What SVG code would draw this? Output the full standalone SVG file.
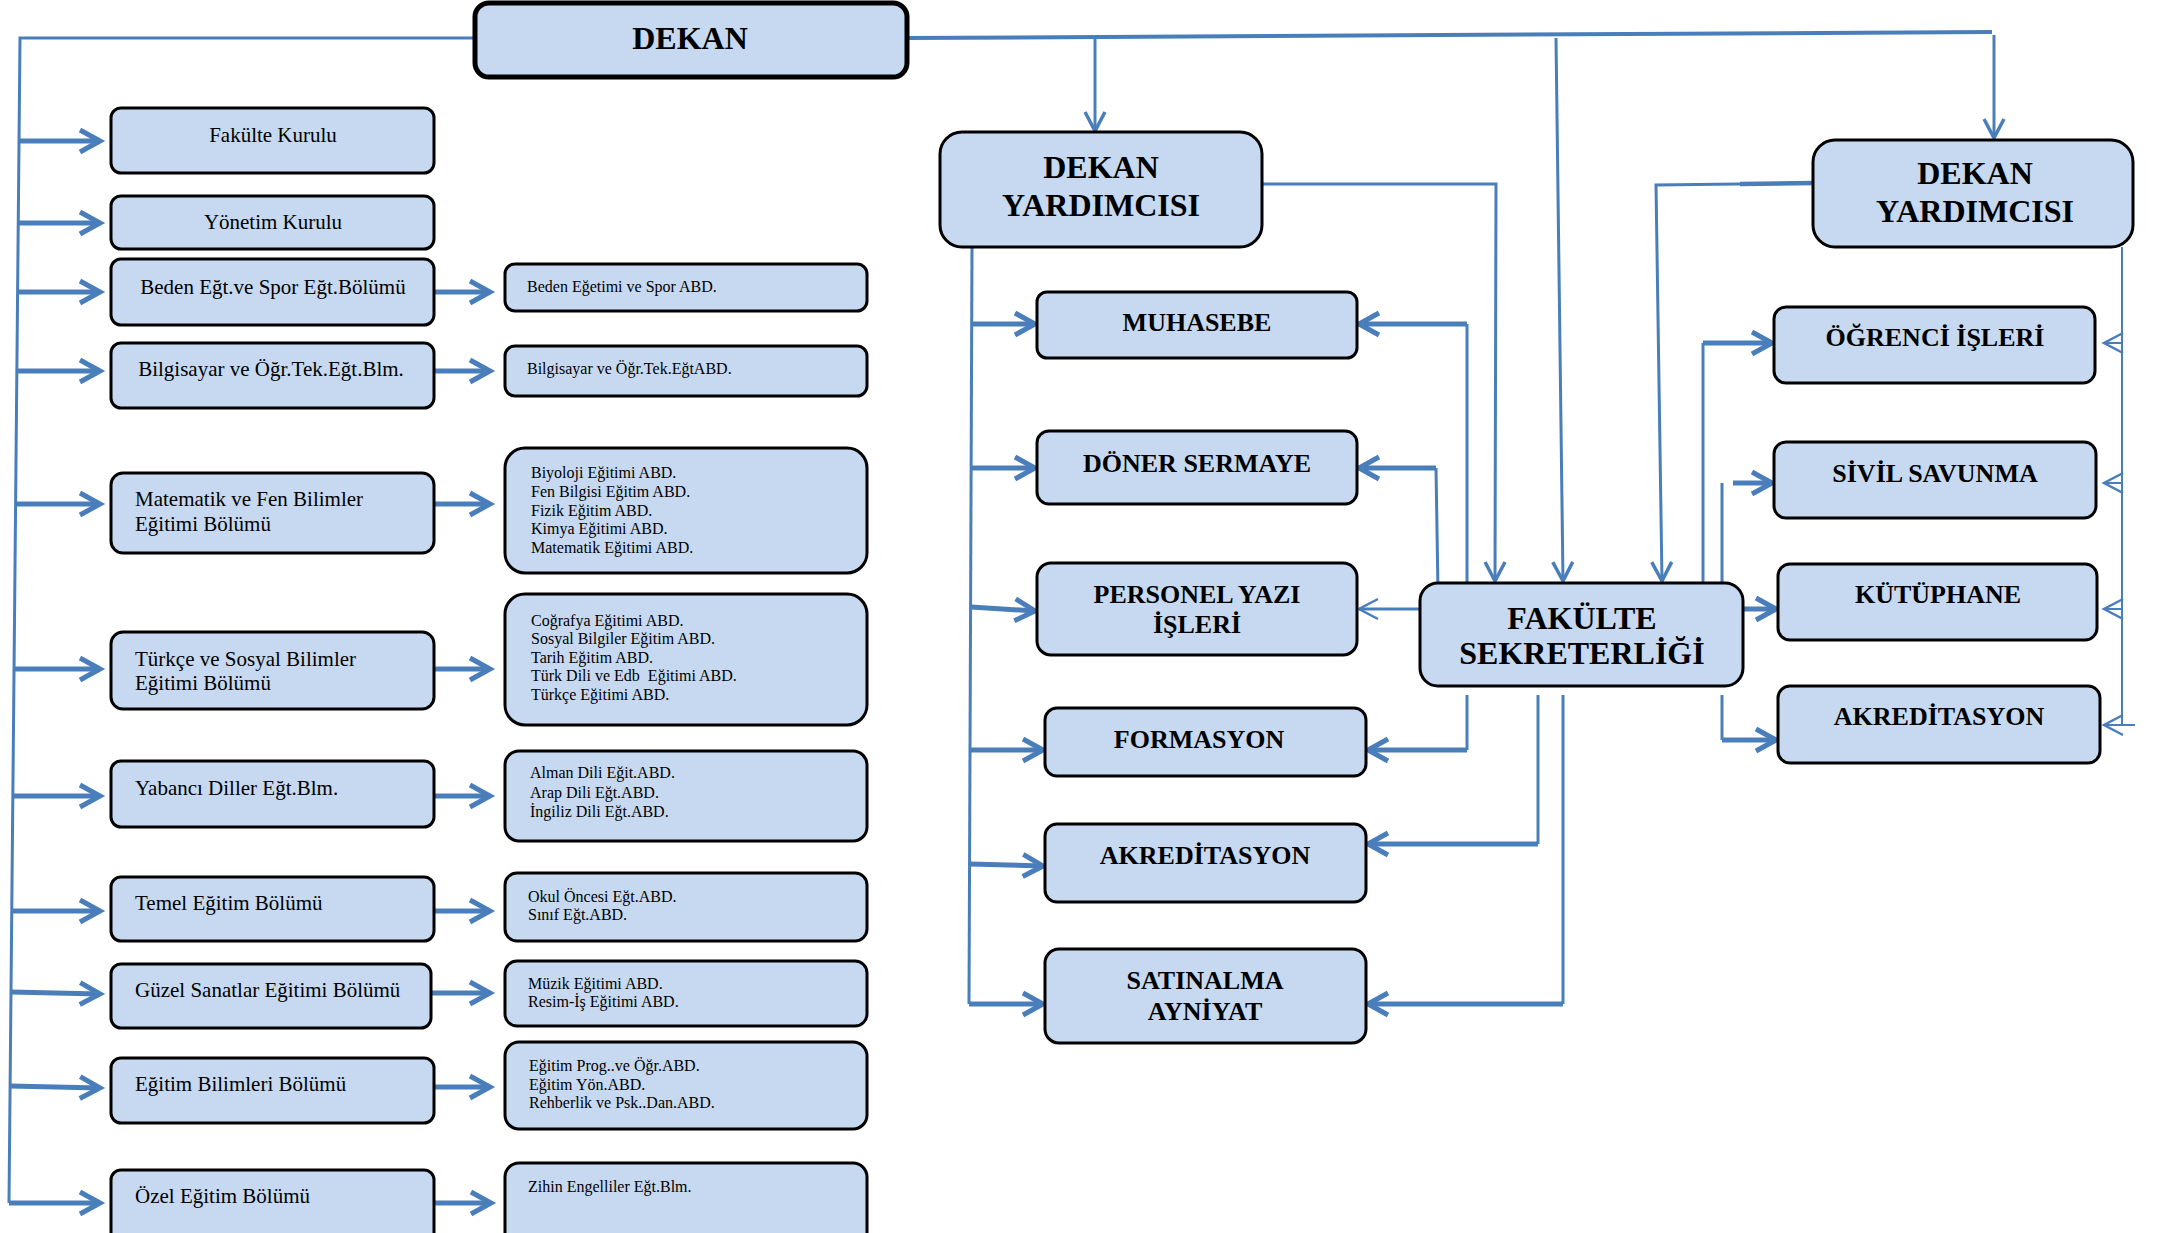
<svg xmlns="http://www.w3.org/2000/svg" width="2161" height="1233" viewBox="0 0 2161 1233">
<defs>
<style>
.bx{fill:#C6D9F1;stroke:#000;stroke-width:3}
.l{font-family:"Liberation Serif","Times New Roman",serif;font-size:21px;fill:#000}
.s{font-family:"Liberation Serif","Times New Roman",serif;font-size:16px;fill:#000}
.b{font-family:"Liberation Serif","Times New Roman",serif;font-size:26px;font-weight:bold;fill:#000;text-anchor:middle}
.bb{font-family:"Liberation Serif","Times New Roman",serif;font-size:32px;font-weight:bold;fill:#000;text-anchor:middle}
.c{fill:none;stroke:#4A7EBB;stroke-width:3}
.ct{fill:none;stroke:#4A7EBB;stroke-width:5}
.cn{fill:none;stroke:#4A7EBB;stroke-width:2}
</style>
<marker id="ah" markerUnits="userSpaceOnUse" markerWidth="32" markerHeight="34" viewBox="-26 -17 32 34" refX="0" refY="0" orient="auto">
<path d="M-20,-11 L0,0 L-20,11" fill="none" stroke="#4A7EBB" stroke-width="5"/>
</marker>
<marker id="am" markerUnits="userSpaceOnUse" markerWidth="30" markerHeight="30" viewBox="-24 -15 30 30" refX="0" refY="0" orient="auto">
<path d="M-19,-10 L0,0 L-19,10" fill="none" stroke="#4A7EBB" stroke-width="3.5"/>
</marker>
<marker id="an" markerUnits="userSpaceOnUse" markerWidth="30" markerHeight="30" viewBox="-24 -15 30 30" refX="0" refY="0" orient="auto">
<path d="M-19,-10 L0,0 L-19,10" fill="none" stroke="#4A7EBB" stroke-width="2.5"/>
</marker>
</defs>
<rect width="2161" height="1233" fill="#fff"/>

<g id="connectors">
<!-- left tree -->
<path class="c" d="M475,38 L20,38 L9,1203"/>
<path class="ct" d="M19,141 L100,141" marker-end="url(#ah)"/>
<path class="ct" d="M18,223 L100,223" marker-end="url(#ah)"/>
<path class="ct" d="M18,292 L100,292" marker-end="url(#ah)"/>
<path class="ct" d="M17,371 L100,371" marker-end="url(#ah)"/>
<path class="ct" d="M16,504 L100,504" marker-end="url(#ah)"/>
<path class="ct" d="M14,669 L100,669" marker-end="url(#ah)"/>
<path class="ct" d="M13,796 L100,796" marker-end="url(#ah)"/>
<path class="ct" d="M12,911 L100,911" marker-end="url(#ah)"/>
<path class="ct" d="M11,992 L100,994" marker-end="url(#ah)"/>
<path class="ct" d="M10,1086 L100,1088" marker-end="url(#ah)"/>
<path class="ct" d="M9,1203 L100,1203" marker-end="url(#ah)"/>
<!-- to sub boxes -->
<path class="ct" d="M434,292 L490,292" marker-end="url(#ah)"/>
<path class="ct" d="M434,371 L490,371" marker-end="url(#ah)"/>
<path class="ct" d="M434,504 L490,504" marker-end="url(#ah)"/>
<path class="ct" d="M434,669 L490,669" marker-end="url(#ah)"/>
<path class="ct" d="M434,796 L490,796" marker-end="url(#ah)"/>
<path class="ct" d="M434,911 L490,911" marker-end="url(#ah)"/>
<path class="ct" d="M431,993 L490,993" marker-end="url(#ah)"/>
<path class="ct" d="M434,1087 L490,1087" marker-end="url(#ah)"/>
<path class="ct" d="M434,1203 L491,1203" marker-end="url(#ah)"/>
<!-- top -->
<path class="ct" d="M907,38 L1992,32" style="stroke-width:4"/>
<path class="c" d="M1095,38 L1095,131" marker-end="url(#am)"/>
<path class="c" d="M1556,38 L1563,581" marker-end="url(#am)"/>
<path class="c" d="M1994,35 L1994,138" marker-end="url(#am)"/>
<path class="c" d="M1262,184 L1496,184 L1495,581" marker-end="url(#am)"/>
<path class="c" d="M1813,183 L1656,185 L1662,581" marker-end="url(#am)"/>
<path class="ct" d="M1813,183 L1740,184" style="stroke-width:4.5"/>
<!-- DY1 left column -->
<path class="c" d="M972,247 L969,1004"/>
<path class="ct" d="M969,1004 L1043,1004" marker-end="url(#ah)"/>
<path class="ct" d="M972,324 L1035,324" marker-end="url(#ah)"/>
<path class="ct" d="M971,468 L1035,468" marker-end="url(#ah)"/>
<path class="ct" d="M971,607 L1035,611" marker-end="url(#ah)"/>
<path class="ct" d="M970,750 L1043,750" marker-end="url(#ah)"/>
<path class="ct" d="M970,864 L1043,866" marker-end="url(#ah)"/>
<!-- from sekreterlik, left -->
<path class="c" d="M1467,583 L1467,324"/>
<path class="ct" d="M1467,324 L1359,324" marker-end="url(#ah)"/>
<path class="c" d="M1438,592 L1436,468"/>
<path class="ct" d="M1436,468 L1359,468" marker-end="url(#ah)"/>
<path class="c" d="M1420,609 L1359,609" marker-end="url(#an)"/>
<path class="c" d="M1467,695 L1467,750"/>
<path class="ct" d="M1467,750 L1368,750" marker-end="url(#ah)"/>
<path class="c" d="M1538,695 L1538,844"/>
<path class="ct" d="M1538,844 L1368,844" marker-end="url(#ah)"/>
<path class="c" d="M1563,695 L1563,1004"/>
<path class="ct" d="M1563,1004 L1368,1004" marker-end="url(#ah)"/>
<!-- from sekreterlik, right -->
<path class="c" d="M1703,583 L1703,343"/>
<path class="ct" d="M1703,343 L1772,343" marker-end="url(#ah)"/>
<path class="c" d="M1722,583 L1722,483"/>
<path class="ct" d="M1733,483 L1772,483" marker-end="url(#ah)"/>
<path class="ct" d="M1743,609 L1776,609" marker-end="url(#ah)"/>
<path class="c" d="M1722,695 L1722,740"/>
<path class="ct" d="M1722,740 L1776,740" marker-end="url(#ah)"/>
<!-- right vertical from DY2 -->
<path class="cn" d="M2122,247 L2122,725"/>
<path class="cn" d="M2122,343 L2104,343" marker-end="url(#an)"/>
<path class="cn" d="M2122,483 L2104,483" marker-end="url(#an)"/>
<path class="cn" d="M2122,609 L2104,609" marker-end="url(#an)"/>
<path class="cn" d="M2135,725 L2104,725" marker-end="url(#an)"/>
</g>

<g id="dekan"><rect x="475" y="3" width="432" height="74" rx="14" fill="#C6D9F1" stroke="#000" stroke-width="5"/><text class="bb" x="690" y="49">DEKAN</text></g>

<g id="fakulte-kurulu"><rect class="bx" x="111" y="108" width="323" height="65" rx="10"/><text class="l" x="273" y="142" text-anchor="middle">Fakülte Kurulu</text></g>
<g id="yonetim-kurulu"><rect class="bx" x="111" y="196" width="323" height="53" rx="10"/><text class="l" x="273" y="229" text-anchor="middle">Yönetim Kurulu</text></g>
<g id="beden"><rect class="bx" x="111" y="259" width="323" height="66" rx="10"/><text class="l" x="273" y="294" text-anchor="middle">Beden Eğt.ve Spor Eğt.Bölümü</text></g>
<g id="bilgisayar"><rect class="bx" x="111" y="343" width="323" height="65" rx="10"/><text class="l" x="271" y="376" text-anchor="middle">Bilgisayar ve Öğr.Tek.Eğt.Blm.</text></g>
<g id="matematik"><rect class="bx" x="111" y="473" width="323" height="80" rx="12"/><text class="l" x="135" y="506">Matematik ve Fen Bilimler</text><text class="l" x="135" y="531">Eğitimi Bölümü</text></g>
<g id="turkce"><rect class="bx" x="111" y="632" width="323" height="77" rx="12"/><text class="l" x="135" y="666">Türkçe ve Sosyal Bilimler</text><text class="l" x="135" y="690">Eğitimi Bölümü</text></g>
<g id="yabanci"><rect class="bx" x="111" y="761" width="323" height="66" rx="10"/><text class="l" x="135" y="795">Yabancı Diller Eğt.Blm.</text></g>
<g id="temel"><rect class="bx" x="111" y="877" width="323" height="64" rx="10"/><text class="l" x="135" y="910">Temel Eğitim Bölümü</text></g>
<g id="guzel"><rect class="bx" x="111" y="964" width="320" height="64" rx="10"/><text class="l" x="135" y="997">Güzel Sanatlar Eğitimi Bölümü</text></g>
<g id="egitim-bilimleri"><rect class="bx" x="111" y="1058" width="323" height="65" rx="10"/><text class="l" x="135" y="1091">Eğitim Bilimleri Bölümü</text></g>
<g id="ozel"><rect class="bx" x="111" y="1170" width="323" height="75" rx="10"/><text class="l" x="135" y="1203">Özel Eğitim Bölümü</text></g>

<g id="beden-abd"><rect class="bx" x="505" y="264" width="362" height="47" rx="10"/><text class="s" x="527" y="292">Beden Eğetimi ve Spor ABD.</text></g>
<g id="bilgisayar-abd"><rect class="bx" x="505" y="346" width="362" height="50" rx="10"/><text class="s" x="527" y="374">Bilgisayar ve Öğr.Tek.EğtABD.</text></g>
<g id="matematik-abd"><rect class="bx" x="505" y="448" width="362" height="125" rx="20"/>
<text class="s" x="531" y="478">Biyoloji Eğitimi ABD.</text>
<text class="s" x="531" y="497">Fen Bilgisi Eğitim ABD.</text>
<text class="s" x="531" y="516">Fizik Eğitim ABD.</text>
<text class="s" x="531" y="534">Kimya Eğitimi ABD.</text>
<text class="s" x="531" y="553">Matematik Eğitimi ABD.</text></g>
<g id="turkce-abd"><rect class="bx" x="505" y="594" width="362" height="131" rx="20"/>
<text class="s" x="531" y="626">Coğrafya Eğitimi ABD.</text>
<text class="s" x="531" y="644">Sosyal Bilgiler Eğitim ABD.</text>
<text class="s" x="531" y="663">Tarih Eğitim ABD.</text>
<text class="s" x="531" y="681" xml:space="preserve">Türk Dili ve Edb  Eğitimi ABD.</text>
<text class="s" x="531" y="700">Türkçe Eğitimi ABD.</text></g>
<g id="yabanci-abd"><rect class="bx" x="505" y="751" width="362" height="90" rx="14"/>
<text class="s" x="530" y="778">Alman Dili Eğit.ABD.</text>
<text class="s" x="530" y="798">Arap Dili Eğt.ABD.</text>
<text class="s" x="530" y="817">İngiliz Dili Eğt.ABD.</text></g>
<g id="temel-abd"><rect class="bx" x="505" y="873" width="362" height="68" rx="12"/>
<text class="s" x="528" y="902">Okul Öncesi Eğt.ABD.</text>
<text class="s" x="528" y="920">Sınıf Eğt.ABD.</text></g>
<g id="guzel-abd"><rect class="bx" x="505" y="961" width="362" height="65" rx="12"/>
<text class="s" x="528" y="989">Müzik Eğitimi ABD.</text>
<text class="s" x="528" y="1007">Resim-İş Eğitimi ABD.</text></g>
<g id="egitim-abd"><rect class="bx" x="505" y="1042" width="362" height="87" rx="14"/>
<text class="s" x="529" y="1071">Eğitim Prog..ve Öğr.ABD.</text>
<text class="s" x="529" y="1090">Eğitim Yön.ABD.</text>
<text class="s" x="529" y="1108">Rehberlik ve Psk..Dan.ABD.</text></g>
<g id="ozel-abd"><rect class="bx" x="505" y="1163" width="362" height="85" rx="14"/>
<text class="s" x="528" y="1192">Zihin Engelliler Eğt.Blm.</text></g>

<g id="dekan-yrd-1"><rect class="bx" x="940" y="132" width="322" height="115" rx="22"/><text class="bb" x="1101" y="178">DEKAN</text><text class="bb" x="1101" y="216">YARDIMCISI</text></g>
<g id="dekan-yrd-2"><rect class="bx" x="1813" y="140" width="320" height="107" rx="22"/><text class="bb" x="1975" y="184">DEKAN</text><text class="bb" x="1975" y="222">YARDIMCISI</text></g>

<g id="muhasebe"><rect class="bx" x="1037" y="292" width="320" height="66" rx="10"/><text class="b" x="1197" y="331">MUHASEBE</text></g>
<g id="doner-sermaye"><rect class="bx" x="1037" y="431" width="320" height="73" rx="12"/><text class="b" x="1197" y="472">DÖNER SERMAYE</text></g>
<g id="personel"><rect class="bx" x="1037" y="563" width="320" height="92" rx="14"/><text class="b" x="1197" y="603">PERSONEL YAZI</text><text class="b" x="1197" y="633">İŞLERİ</text></g>
<g id="formasyon"><rect class="bx" x="1045" y="708" width="321" height="68" rx="12"/><text class="b" x="1199" y="748">FORMASYON</text></g>
<g id="akreditasyon-1"><rect class="bx" x="1045" y="824" width="321" height="78" rx="12"/><text class="b" x="1205" y="864">AKREDİTASYON</text></g>
<g id="satinalma"><rect class="bx" x="1045" y="949" width="321" height="94" rx="14"/><text class="b" x="1205" y="989">SATINALMA</text><text class="b" x="1205" y="1020">AYNİYAT</text></g>

<g id="fakulte-sekreterligi"><rect class="bx" x="1420" y="583" width="323" height="103" rx="18"/><text class="bb" x="1582" y="629">FAKÜLTE</text><text class="bb" x="1582" y="664">SEKRETERLİĞİ</text></g>

<g id="ogrenci-isleri"><rect class="bx" x="1774" y="307" width="321" height="76" rx="12"/><text class="b" x="1935" y="346">ÖĞRENCİ İŞLERİ</text></g>
<g id="sivil-savunma"><rect class="bx" x="1774" y="442" width="322" height="76" rx="12"/><text class="b" x="1935" y="482">SİVİL SAVUNMA</text></g>
<g id="kutuphane"><rect class="bx" x="1778" y="564" width="319" height="76" rx="12"/><text class="b" x="1938" y="603">KÜTÜPHANE</text></g>
<g id="akreditasyon-2"><rect class="bx" x="1778" y="686" width="322" height="77" rx="12"/><text class="b" x="1939" y="725">AKREDİTASYON</text></g>
</svg>
